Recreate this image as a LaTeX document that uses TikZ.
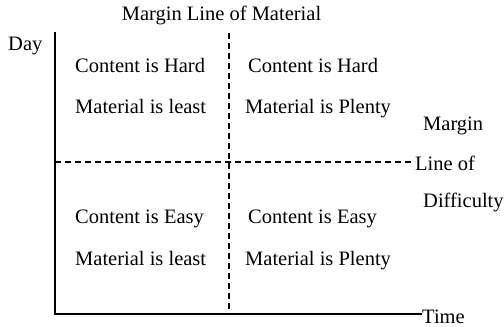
\documentclass[tikz,border=0pt]{standalone}
\usepackage{fontspec}
\setmainfont{Liberation Serif}
\begin{document}
\begin{tikzpicture}[x=1pt,y=-1pt,
  lbl/.style={anchor=base west,inner sep=0pt,font=\fontsize{20.5}{24}\selectfont},
  axisline/.style={line width=1.7pt},
  divline/.style={line width=1.4pt,dash pattern=on 6pt off 4pt}]
\useasboundingbox (0,0) rectangle (504,327);
% axes corners
\coordinate (top) at (55,32);
\coordinate (orig) at (55,314);
\coordinate (vtop) at (229,33);
\coordinate (vbot) at (229,314);
\coordinate (hleft) at (55,162);
% labels
\node[lbl,anchor=base] (title) at (221.5,20) {Margin Line of Material};
\node[lbl] (day) at (8,50) {Day};
\node[lbl] (time) at (422,323) {Time};
\node[lbl] (margin) at (423,130) {Margin};
\node[lbl] (lineof) at (415,170) {Line of};
\node[lbl] (diff) at (423,207) {Difficulty};
% quadrant texts
\node[lbl] (q1a) at (75,72) {Content is Hard};
\node[lbl] (q1b) at (75,113) {Material is least};
\node[lbl] (q2a) at (248,72) {Content is Hard};
\node[lbl] (q2b) at (245,113) {Material is Plenty};
\node[lbl] (q3a) at (75,223) {Content is Easy};
\node[lbl] (q3b) at (75,265) {Material is least};
\node[lbl] (q4a) at (248,223) {Content is Easy};
\node[lbl] (q4b) at (245,265) {Material is Plenty};
% lines
\draw[divline] (vtop) -- (vbot);
\draw[divline] (hleft) -- (hleft -| lineof.west);
\draw[axisline] (top) -- (orig) -- (orig -| time.west);
\end{tikzpicture}
\end{document}
